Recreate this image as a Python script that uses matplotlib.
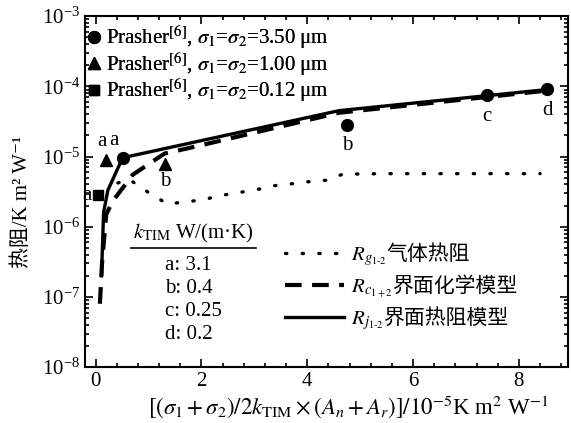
import matplotlib
matplotlib.use("Agg")
import matplotlib.pyplot as plt
from matplotlib.lines import Line2D
from matplotlib.offsetbox import AnchoredOffsetbox, VPacker, HPacker, TextArea, DrawingArea
from matplotlib.ticker import MultipleLocator, LogLocator, NullFormatter
import numpy as np

plt.rcParams["font.family"] = ["Liberation Serif", "DejaVu Serif", "Noto Sans CJK SC"]
plt.rcParams["mathtext.fontset"] = "stix"

# Prasher measurements
circle_x = [0.51, 4.76, 7.39, 8.54]
circle_y = [9.5e-6, 2.8e-5, 7.4e-5, 9.1e-5]
circle_lbl = ["a", "b", "c", "d"]
tri_x = [0.20, 1.32]
tri_y = [9.0e-6, 7.9e-6]
tri_lbl = ["a", "b"]
sq_x = [0.04]
sq_y = [2.8e-6]
sq_lbl = ["a"]

# model curves
rj_x = [0.11, 0.15, 0.23, 0.51, 4.6, 8.54]
rj_y = [2.0e-7, 1.6e-6, 3.3e-6, 9.6e-6, 4.5e-5, 9.0e-5]
rc_x = [0.08, 0.12, 0.20, 0.32, 0.70, 1.30, 2.0, 4.6, 8.54]
rc_y = [8e-8, 3e-7, 1.5e-6, 2.3e-6, 5.5e-6, 1.1e-5, 1.45e-5, 4.2e-5, 8.7e-5]
rg_x = [0.42, 0.62, 1.02, 1.36, 1.70, 2.02, 2.34, 2.70, 3.04, 3.38, 3.72,
        4.05, 4.37, 4.67, 5.5, 6.5, 7.5, 8.4]
rg_y = [4.2e-6, 4.8e-6, 3.0e-6, 2.1e-6, 2.27e-6, 2.4e-6, 2.77e-6, 3.06e-6,
        3.37e-6, 3.85e-6, 4.1e-6, 4.4e-6, 4.6e-6, 5.6e-6, 5.7e-6, 5.7e-6,
        5.7e-6, 5.7e-6]

model_sym = [r"$R_{g_{1\text{-}2}}$", r"$R_{c_{1+2}}$", r"$R_{j_{1\text{-}2}}$"]
model_zh = ["气体热阻", "界面化学模型", "界面热阻模型"]
ktim_rows = ["a: 3.1", "b: 0.4", "c: 0.25", "d: 0.2"]

dot_ls = (0, (0.4, 4.6))
dash_ls = (0, (4.0, 2.5))

fig = plt.figure(figsize=(5.71, 4.23), dpi=100)
ax = fig.add_axes([0.149, 0.132, 0.845, 0.830])

ax.plot(rg_x, rg_y, color="black", lw=2.4, linestyle=dot_ls,
        dash_capstyle="round")
ax.plot(rc_x, rc_y, color="black", lw=3, linestyle=dash_ls)
ax.plot(rj_x, rj_y, color="black", lw=2.4)

h1, = ax.plot(circle_x, circle_y, "o", color="black", ms=8.5, linestyle="none")
h2, = ax.plot(tri_x, tri_y, "^", color="black", ms=8.5, linestyle="none")
h3, = ax.plot(sq_x, sq_y, "s", color="black", ms=7.5, linestyle="none")

# point labels
fs_lbl = 15
for x, y, t in zip(circle_x[1:], circle_y[1:], circle_lbl[1:]):
    ax.annotate(t, (x, y), xytext=(0, -15), textcoords="offset points",
                ha="center", va="center", fontsize=fs_lbl)
ax.annotate(circle_lbl[0], (circle_x[0], circle_y[0]), xytext=(-6, 13),
            textcoords="offset points", ha="center", va="center", fontsize=fs_lbl)
ax.annotate(tri_lbl[0], (tri_x[0], tri_y[0]), xytext=(-3, 13),
            textcoords="offset points", ha="center", va="center", fontsize=fs_lbl)
ax.annotate(tri_lbl[1], (tri_x[1], tri_y[1]), xytext=(0, -13),
            textcoords="offset points", ha="center", va="center", fontsize=fs_lbl)
ax.annotate(sq_lbl[0], (sq_x[0], sq_y[0]), xytext=(-8, 0),
            textcoords="offset points", ha="center", va="center", fontsize=fs_lbl)

ax.set_yscale("log")
ax.set_xlim(-0.2, 8.92)
ax.set_ylim(1e-8, 1e-3)
ax.xaxis.set_major_locator(MultipleLocator(2))
ax.xaxis.set_minor_locator(MultipleLocator(0.4))
ax.yaxis.set_major_locator(LogLocator(base=10, numticks=10))
ax.yaxis.set_minor_locator(LogLocator(base=10, subs=np.arange(2, 10), numticks=10))
ax.yaxis.set_minor_formatter(NullFormatter())
ax.tick_params(which="both", direction="in", top=True, right=True,
               labelsize=15, width=1.2)
ax.tick_params(which="major", length=6)
ax.tick_params(which="minor", length=3)
for s in ax.spines.values():
    s.set_linewidth(1.5)

ax.set_xlabel(r"$[(\sigma_1+\sigma_2)/2k_{\rm TIM}\times(A_n+A_r)]/10^{-5}$K m$^2$ W$^{-1}$",
              fontsize=16.5)
ax.xaxis.set_label_coords(0.545, -0.075)
ax.set_ylabel("热阻/K m² W⁻¹", fontsize=15)
ax.yaxis.set_label_coords(-0.11, 0.47)

leg1 = ax.legend([h1, h2, h3],
                 [r"Prasher$^{[6]}$, $\sigma_1$=$\sigma_2$=3.50 μm",
                  r"Prasher$^{[6]}$, $\sigma_1$=$\sigma_2$=1.00 μm",
                  r"Prasher$^{[6]}$, $\sigma_1$=$\sigma_2$=0.12 μm"],
                 loc="upper left", bbox_to_anchor=(-0.025, 1.02), frameon=False,
                 fontsize=15, handlelength=0.6, handletextpad=0.3,
                 labelspacing=-0.04, borderaxespad=0.3)
ax.add_artist(leg1)

# model legend built by hand so the Chinese text can follow the math symbol
rows = []
for ls, lw, sym, zh in zip([dot_ls, dash_ls, "-"], [2.4, 3, 2.4], model_sym, model_zh):
    da = DrawingArea(42, 12, 0, 0)
    ln = Line2D([0, 42], [5, 5], color="black", lw=lw, linestyle=ls)
    if ls is dot_ls:
        ln.set_dash_capstyle("round")
    da.add_artist(ln)
    t1 = TextArea(sym, textprops=dict(fontsize=15))
    t2 = TextArea(zh, textprops=dict(fontsize=15))
    inner = HPacker(children=[t1, t2], align="baseline", pad=0, sep=0)
    rows.append(HPacker(children=[da, inner], align="baseline", pad=0, sep=5))
box = AnchoredOffsetbox(loc="upper left", child=VPacker(children=rows, align="left",
                                                        pad=0, sep=5.5),
                        bbox_to_anchor=(0.415, 0.352), bbox_transform=ax.transAxes,
                        frameon=False, pad=0, borderpad=0)
ax.add_artist(box)

# k_TIM table
ax.text(0.225, 0.38, r"$k_{\rm TIM}$ W/(m·K)", transform=ax.transAxes,
        fontsize=15, ha="center", va="center")
ax.plot([0.095, 0.355], [0.34, 0.34], transform=ax.transAxes, color="black", lw=1.2)
for i, row in enumerate(ktim_rows):
    ax.text(0.165, 0.29 - i * 0.066, row, transform=ax.transAxes,
            fontsize=15, ha="left", va="center")

fig.savefig("out.png", dpi=100)
